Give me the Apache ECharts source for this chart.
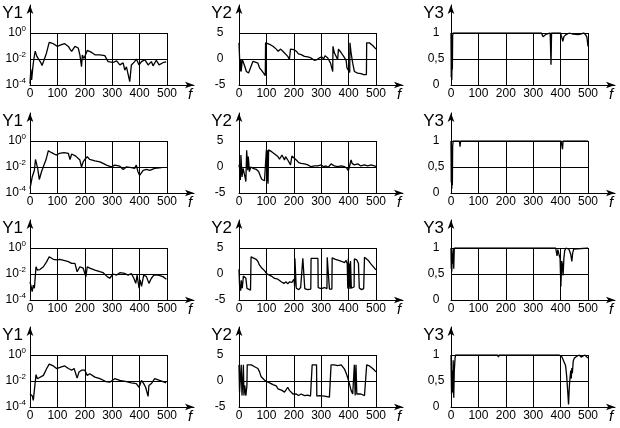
<!DOCTYPE html>
<html>
<head>
<meta charset="utf-8">
<script src="https://cdn.jsdelivr.net/npm/echarts@6/dist/echarts.min.js"></script>
<style>
  html, body { margin: 0; padding: 0; background: #fff; }
  #main { width: 620px; height: 428px; }
</style>
</head>
<body>
<div id="main"></div>
<script>
// tick labels
const fTicks = [0, 100, 200, 300, 400, 500];
const y1Ticks = [1e-4, 1e-2, 1];
const y2Ticks = [-5, 0, 5];
const y3Ticks = [0, 0.5, 1];
const yNames = ['Y1', 'Y2', 'Y3'];
const xName = 'f';

// Y1 (log scale), one array per row, [f, value]
const y1Row1 = [[0,1.26e-4],[3,1.6e-3],[6,2.5e-4],[10,2e-3],[14,1e-2],[19,4e-2],[25,1.6e-2],[32,1.26e-2],[40,5e-3],[44,3.2e-3],[51,8e-3],[60,2.8e-2],[70,0.19],[85,0.15],[100,0.093],[115,0.126],[127,0.15],[140,0.093],[146,0.058],[152,0.038],[164,0.093],[176,0.07],[182,0.021],[188,2.6e-3],[191,0.02],[194,0.016],[197,0.011],[209,0.046],[225,0.032],[237,0.021],[255,0.021],[273,0.018],[285,6.3e-3],[303,5.4e-3],[316,7.2e-3],[328,3.5e-3],[340,5e-3],[346,1.4e-3],[352,2.5e-3],[358,3.5e-3],[364,1.8e-4],[370,3.5e-3],[382,6.3e-3],[388,1e-2],[398,3.5e-3],[407,6.3e-3],[419,8.9e-3],[431,3.5e-3],[443,6.3e-3],[449,3e-3],[461,8e-3],[471,3.5e-3],[485,5.2e-3],[497,6e-3]];
const y1Row2 = [[0,2.2e-4],[4,1.6e-4],[8,1.7e-3],[16,5.6e-3],[20,0.038],[28,7.9e-3],[34,1.1e-3],[42,4.3e-3],[51,0.014],[58,0.034],[67,0.18],[79,0.126],[95,0.083],[107,0.11],[124,0.126],[140,0.11],[146,0.038],[152,0.1],[167,0.069],[182,0.034],[188,0.01],[194,0.025],[200,0.038],[209,0.063],[218,0.038],[237,0.03],[255,0.025],[267,0.019],[279,0.014],[297,0.0102],[309,0.014],[328,0.0115],[340,6.5e-3],[352,0.0102],[370,9.1e-3],[382,7.9e-3],[388,0.014],[394,4.3e-3],[400,2.3e-3],[407,1.7e-3],[413,5.6e-3],[425,6.5e-3],[437,5.6e-3],[455,7.9e-3],[480,9.1e-3]];
const y1Row3 = [[0,2.5e-3],[4,1.1e-3],[8,4.4e-4],[12,1.4e-3],[16,8e-4],[22,0.036],[27,0.02],[36,0.022],[49,0.036],[61,0.089],[70,0.21],[85,0.135],[97,0.12],[109,0.135],[127,0.107],[140,0.089],[152,0.066],[164,0.066],[172,0.015],[182,0.036],[194,0.028],[204,6.3e-3],[209,0.036],[218,0.028],[237,0.02],[255,0.015],[267,0.0126],[282,6.3e-3],[291,4.7e-3],[303,0.01],[316,8.3e-3],[328,0.0126],[346,0.011],[358,8.3e-3],[370,0.011],[379,4.7e-3],[386,1.9e-3],[391,8.3e-3],[398,8e-4],[402,3.5e-3],[407,1.1e-3],[415,8.3e-3],[425,6.3e-3],[434,1.9e-3],[443,4.7e-3],[452,8.3e-3],[468,8.3e-3],[485,6.3e-3],[498,3.9e-3]];
const y1Row4 = [[0,1e-3],[4,1.35e-3],[8,7.4e-4],[12,3.2e-4],[16,2e-3],[22,0.031],[27,0.015],[34,0.011],[49,0.027],[61,0.091],[70,0.2],[85,0.145],[97,0.091],[115,0.123],[127,0.145],[140,0.091],[152,0.068],[161,0.091],[172,0.0166],[179,0.05],[188,0.068],[200,0.068],[209,0.027],[218,0.036],[237,0.02],[255,0.015],[277,9.1e-3],[291,8.1e-3],[309,0.015],[328,0.011],[352,9.1e-3],[370,7.2e-3],[388,6.3e-3],[398,3.3e-3],[407,0.011],[415,6.3e-3],[422,3.3e-3],[431,6.5e-4],[434,4.5e-3],[443,6.3e-3],[455,0.015],[473,0.011],[485,9.1e-3],[497,7.2e-3]];

// Y2
const y2Row1 = [[0,3.1],[4,-2.4],[6,0],[8,-2.4],[12,-0.1],[17,-0.2],[21,-1.4],[27,-2.4],[35,-2.7],[42,-1.7],[51,-0.45],[60,-0.6],[69,-0.8],[75,-1.7],[81,-2.1],[91,-2.8],[96,-3.2],[97,3.1],[100,3.0],[112,2.8],[124,2.45],[136,1.9],[143,1.5],[152,1.9],[160,1.5],[166,1.2],[178,0.5],[184,-0.1],[188,1.9],[193,2.1],[200,1.8],[209,1.5],[217,1.0],[227,0.85],[239,0.5],[251,0.4],[263,0.2],[275,-0.25],[285,-0.1],[293,0.2],[302,0.4],[309,0.0],[314,0.65],[324,0.2],[334,-0.8],[342,-2.4],[343,2.45],[348,1.2],[354,1.3],[360,-0.1],[363,1.9],[373,1.2],[382,0.5],[391,-0.25],[394,-1.7],[399,-1.4],[404,-2.6],[405,3.1],[409,1.2],[415,-0.8],[421,-2.4],[433,-2.7],[445,-2.8],[455,-3.0],[461,-2.7],[465,-3.0],[466,3.1],[476,3.1],[488,2.6],[500,1.9]];
const y2Row2 = [[0,0.4],[2,-0.2],[5,-2.5],[7,2.3],[11,-1.9],[15,-0.25],[18,-0.45],[23,-2.2],[25,-2.8],[28,3.2],[32,-0.6],[34,2.0],[38,-0.9],[43,0.0],[51,-0.25],[63,-0.45],[72,-0.9],[79,-1.9],[84,-2.4],[93,-2.65],[98,-2.7],[100,3.3],[102,-2.8],[103,3.2],[106,-3.2],[108,3.3],[118,3.0],[130,2.5],[142,2.0],[148,1.5],[157,2.3],[166,1.35],[170,2.0],[178,1.35],[188,0.4],[193,2.1],[200,2.0],[209,1.35],[218,0.85],[227,0.7],[239,0.6],[251,0.4],[263,0.05],[275,0.2],[288,0.2],[300,0.4],[309,0.05],[318,0.2],[326,-0.05],[336,0.6],[348,0.2],[360,0.05],[373,0.2],[385,0.05],[394,-0.25],[399,-0.7],[403,0.05],[409,1.35],[413,0.7],[421,0.4],[433,0.6],[445,0.2],[457,0.4],[470,0.2],[482,0.4],[500,0.1]];
const y2Row3 = [[0,0.9],[2,-2.1],[6,-3.2],[8,-1.2],[12,-2.75],[16,-0.4],[20,-0.2],[25,-0.8],[29,-2.75],[35,-2.9],[42,-3.1],[44,3.3],[51,3.0],[63,2.8],[69,2.4],[75,1.7],[84,1.1],[93,0.65],[100,0.1],[106,0.0],[118,-0.4],[130,-0.85],[142,-1.0],[154,-1.5],[164,-1.8],[172,-1.5],[178,-1.9],[184,-1.5],[193,-1.6],[198,-1.8],[201,-1.0],[203,-2.4],[204,3.0],[208,3.0],[209,-2.75],[214,-2.4],[218,-3.0],[225,-2.6],[232,-2.8],[233,3.0],[239,3.0],[240,-2.8],[250,-3.0],[262,-2.9],[263,3.0],[288,3.0],[289,-2.6],[300,-2.8],[312,-2.6],[321,-2.8],[322,3.2],[329,3.2],[330,-2.9],[339,-2.9],[340,3.1],[352,2.8],[364,2.6],[376,2.4],[385,2.2],[391,2.6],[395,2.0],[397,-2.8],[399,3.0],[401,-2.5],[403,2.0],[405,-2.9],[407,2.5],[410,-2.7],[415,-2.9],[420,-2.5],[421,2.9],[430,2.7],[436,2.0],[439,-2.7],[447,-3.0],[455,-2.8],[458,3.2],[470,2.7],[482,1.9],[500,0.8]];
const y2Row4 = [[0,3.1],[2,-2.2],[5,-2.5],[8,3.1],[11,-2.8],[13,-0.85],[16,3.1],[18,-2.8],[21,-0.85],[23,-1.0],[25,-2.8],[29,-0.85],[30,3.1],[33,3.2],[45,3.1],[57,2.75],[69,2.4],[75,1.75],[81,0.8],[91,0.3],[100,-0.1],[112,-0.35],[124,-0.7],[136,-0.95],[142,-1.5],[148,-1.2],[157,-1.8],[166,-2.15],[172,-1.8],[178,-1.2],[184,-1.8],[190,-1.8],[197,-2.5],[203,-2.15],[209,-2.5],[217,-2.8],[227,-2.5],[239,-2.8],[251,-2.7],[261,-2.9],[266,-2.8],[267,3.1],[283,3.1],[284,-2.9],[294,-2.8],[312,-2.9],[330,-3.1],[334,-3.1],[336,3.1],[342,2.95],[348,3.1],[354,2.75],[360,2.95],[373,3.1],[385,2.3],[394,1.1],[403,-0.5],[409,-1.8],[415,-2.5],[420,-2.4],[421,3.1],[424,-2.8],[427,3.1],[430,-2.5],[436,-2.8],[445,-2.5],[458,-2.8],[464,-3.1],[466,3.1],[476,2.9],[488,2.4],[500,1.75]];

// Y3
const y3Row1 = [[0,1.0],[1,0.15],[2,0.9],[3,0.1],[4,0.8],[5,0.3],[6,0.95],[8,1.0],[185,1.0],[189,0.97],[192,1.0],[330,1.0],[336,0.93],[338,0.9],[340,0.96],[348,0.98],[355,0.98],[362,1.0],[365,0.39],[367,1.0],[400,1.0],[403,0.94],[408,0.84],[412,0.93],[420,0.97],[432,1.0],[445,0.98],[448,0.95],[452,1.0],[465,0.97],[470,1.0],[485,1.0],[492,0.96],[496,0.92],[500,0.74]];
const y3Row2 = [[0,1.0],[1,0.2],[2,0.8],[3,0.08],[4,0.6],[5,0.15],[6,0.9],[8,1.0],[31,1.0],[33,0.89],[35,1.0],[402,1.0],[405,0.9],[407,0.84],[409,1.0],[500,1.0]];
const y3Row3 = [[0,1.0],[1,0.6],[2,0.95],[3,0.55],[4,0.9],[6,0.7],[8,0.98],[10,0.6],[12,1.0],[204,1.0],[206,0.97],[208,1.0],[382,1.0],[387,0.85],[390,0.97],[395,0.86],[398,0.8],[401,0.26],[404,0.75],[406,0.7],[409,0.47],[412,0.8],[415,0.95],[420,1.0],[430,0.98],[437,0.88],[441,0.74],[444,0.9],[448,0.98],[452,1.0],[500,1.0]];
const y3Row4 = [[0,1.0],[1,0.58],[2,0.25],[4,0.7],[6,0.28],[8,0.9],[10,0.18],[12,0.7],[15,0.95],[17,1.0],[170,1.0],[173,0.96],[176,1.0],[395,1.0],[400,0.97],[405,0.96],[412,0.93],[418,0.8],[422,0.6],[426,0.3],[429,0.05],[432,0.4],[435,0.6],[437,0.7],[439,0.55],[441,0.75],[443,0.65],[446,0.88],[450,0.94],[458,0.97],[468,1.0],[475,0.96],[482,0.94],[488,1.0],[494,0.98],[500,0.94]];

const FONT = '"Liberation Sans", Arial, sans-serif';
const colLeft = [30, 239, 451];
const rowTop = [33, 141, 248, 355];
const plotW = 137, plotH = 52;
const arrowW = 164, arrowUp = 28;

const columns = [
  { rows: [y1Row1, y1Row2, y1Row3, y1Row4], ticks: y1Ticks, log: true },
  { rows: [y2Row1, y2Row2, y2Row3, y2Row4], ticks: y2Ticks },
  { rows: [y3Row1, y3Row2, y3Row3, y3Row4], ticks: y3Ticks }
];

function yAxisFor(c, gridIndex) {
  const ticks = columns[c].ticks;
  const base = {
    gridIndex,
    min: ticks[0],
    max: ticks[ticks.length - 1],
    axisLine: { show: false, onZero: false },
    axisTick: { show: false },
    splitLine: { show: true, lineStyle: { color: '#000', width: 1 } }
  };
  if (columns[c].log) {
    return Object.assign(base, {
      type: 'log', logBase: 10,
      interval: Math.log10(ticks[1] / ticks[0]),
      axisLabel: {
        margin: 4, color: '#000', fontFamily: FONT,
        formatter: v => '{b|10}{s|' + Math.round(Math.log10(v)) + '}',
        rich: {
          b: { fontSize: 12, fontFamily: FONT, color: '#000' },
          s: { fontSize: 8, fontFamily: FONT, color: '#000', verticalAlign: 'top', padding: [0, 0, 8, 0] }
        }
      }
    });
  }
  return Object.assign(base, {
    type: 'value',
    interval: ticks[1] - ticks[0],
    axisLabel: {
      margin: c === 1 ? 19 : 15, align: 'center',
      fontSize: 12, color: '#000', fontFamily: FONT,
      formatter: v => String(v).replace('.', ',')
    }
  });
}

const grids = [], xAxes = [], yAxes = [], series = [];

columns.forEach((col, c) => {
  col.rows.forEach((data, r) => {
    const gi = grids.length;
    // plot box
    grids.push({ left: colLeft[c], top: rowTop[r], width: plotW, height: plotH });
    xAxes.push({
      gridIndex: gi, type: 'value',
      min: fTicks[0], max: fTicks[fTicks.length - 1], interval: fTicks[1] - fTicks[0],
      axisLine: { show: false, onZero: false },
      axisTick: { show: false },
      axisLabel: { margin: 3, fontSize: 12, color: '#000', fontFamily: FONT },
      splitLine: { show: true, lineStyle: { color: '#000', width: 1 } }
    });
    yAxes.push(yAxisFor(c, gi));
    // arrows and axis names
    grids.push({ left: colLeft[c], top: rowTop[r] - arrowUp, width: arrowW, height: plotH + arrowUp });
    xAxes.push({
      gridIndex: gi + 1, type: 'value', min: 0, max: 1,
      axisLine: { show: true, onZero: false, symbol: ['none', 'arrow'], symbolSize: [5, 9], lineStyle: { color: '#000', width: 1 } },
      axisTick: { show: false }, axisLabel: { show: false }, splitLine: { show: false },
      name: xName, nameLocation: 'end', nameGap: -4,
      nameTextStyle: { fontFamily: FONT, fontSize: 15, fontStyle: 'italic', color: '#000', align: 'center', verticalAlign: 'top', padding: [2, 0, 0, 0] }
    });
    yAxes.push({
      gridIndex: gi + 1, type: 'value', min: 0, max: 1,
      axisLine: { show: true, onZero: false, symbol: ['none', 'arrow'], symbolSize: [5, 9], lineStyle: { color: '#000', width: 1 } },
      axisTick: { show: false }, axisLabel: { show: false }, splitLine: { show: false },
      name: yNames[c], nameLocation: 'end', nameGap: 0,
      nameTextStyle: { fontFamily: FONT, fontSize: 17, color: '#000', align: 'right', verticalAlign: 'top', padding: [0, 7, 0, 0] }
    });
    series.push({
      type: 'line', xAxisIndex: gi, yAxisIndex: gi, data,
      showSymbol: false, symbol: 'none', silent: true,
      lineStyle: { color: '#000', width: 1.3 }
    });
  });
});

const chart = echarts.init(document.getElementById('main'));
chart.setOption({
  backgroundColor: '#fff',
  animation: false,
  grid: grids,
  xAxis: xAxes,
  yAxis: yAxes,
  series
});
</script>
</body>
</html>
